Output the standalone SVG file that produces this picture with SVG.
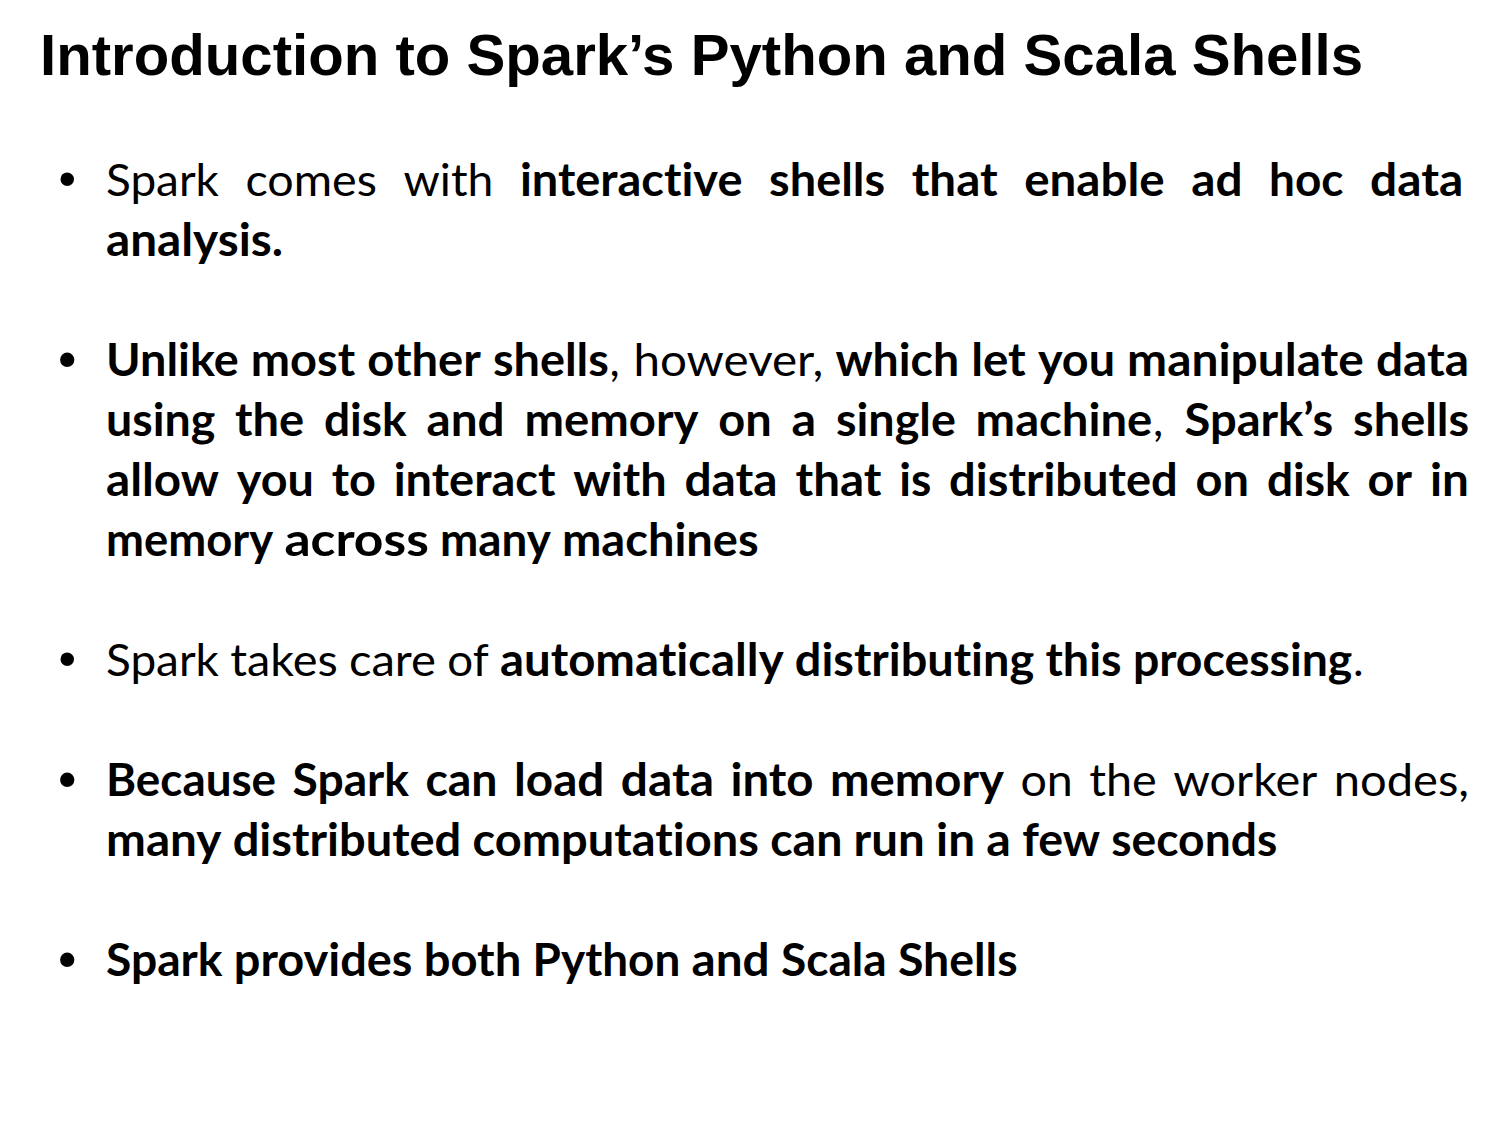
<svg xmlns="http://www.w3.org/2000/svg" width="1500" height="1125" viewBox="0 0 1500 1125">
<style>
.t{font-family:"Liberation Sans",Arial,sans-serif;font-weight:bold;font-size:58px;fill:#000}
.r,.b{font-family:Lato,"Open Sans",sans-serif;font-size:45px;fill:#000;font-variant-ligatures:none;font-feature-settings:"liga" 0,"clig" 0,"dlig" 0}
.b{font-weight:bold}
.bu{font-family:"Liberation Sans",Arial,sans-serif;font-size:50px;fill:#000}
.bb{font-weight:bold}
</style>
<rect width="1500" height="1125" fill="#fff"/>
<g id="title">
<text class="t" x="40" y="75" textLength="1323" lengthAdjust="spacingAndGlyphs">Introduction to Spark’s Python and Scala Shells</text>
</g>
<g id="bullet1">
<text class="bu" x="58.5" y="196">•</text>
<text class="r" x="106" y="196" textLength="112.9" lengthAdjust="spacingAndGlyphs">Spark</text>
<text class="r" x="245.5" y="196" textLength="131.4" lengthAdjust="spacingAndGlyphs">comes</text>
<text class="r" x="403.5" y="196" textLength="89.8" lengthAdjust="spacingAndGlyphs">with</text>
<text class="b" x="519.9" y="196" textLength="222.6" lengthAdjust="spacingAndGlyphs">interactive</text>
<text class="b" x="769.1" y="196" textLength="116" lengthAdjust="spacingAndGlyphs">shells</text>
<text class="b" x="911.7" y="196" textLength="85.9" lengthAdjust="spacingAndGlyphs">that</text>
<text class="b" x="1024.2" y="196" textLength="140.4" lengthAdjust="spacingAndGlyphs">enable</text>
<text class="b" x="1191.2" y="196" textLength="51.3" lengthAdjust="spacingAndGlyphs">ad</text>
<text class="b" x="1269.1" y="196" textLength="74.4" lengthAdjust="spacingAndGlyphs">hoc</text>
<text class="b" x="1370.1" y="196" textLength="93.2" lengthAdjust="spacingAndGlyphs">data</text>
<text class="b" x="106" y="256" textLength="177.1" lengthAdjust="spacingAndGlyphs">analysis.</text>
</g>
<g id="bullet2">
<text class="bu bb" x="58.5" y="376">•</text>
<text class="b" x="106" y="376" textLength="132.7" lengthAdjust="spacingAndGlyphs">Unlike</text>
<text class="b" x="250.8" y="376" textLength="104.4" lengthAdjust="spacingAndGlyphs">most</text>
<text class="b" x="367.3" y="376" textLength="113.5" lengthAdjust="spacingAndGlyphs">other</text>
<text class="b" x="492.9" y="376" textLength="116" lengthAdjust="spacingAndGlyphs">shells</text>
<text class="r" x="609.5" y="376">,</text>
<text class="r" x="633.4" y="376" textLength="189.9" lengthAdjust="spacingAndGlyphs">however,</text>
<text class="b" x="835.4" y="376" textLength="123.7" lengthAdjust="spacingAndGlyphs">which</text>
<text class="b" x="971.2" y="376" textLength="54.6" lengthAdjust="spacingAndGlyphs">let</text>
<text class="b" x="1037.9" y="376" textLength="77.1" lengthAdjust="spacingAndGlyphs">you</text>
<text class="b" x="1127.1" y="376" textLength="236.7" lengthAdjust="spacingAndGlyphs">manipulate</text>
<text class="b" x="1375.9" y="376" textLength="93.2" lengthAdjust="spacingAndGlyphs">data</text>
<text class="b" x="106" y="436" textLength="109.2" lengthAdjust="spacingAndGlyphs">using</text>
<text class="b" x="235" y="436" textLength="69.1" lengthAdjust="spacingAndGlyphs">the</text>
<text class="b" x="323.9" y="436" textLength="82.8" lengthAdjust="spacingAndGlyphs">disk</text>
<text class="b" x="426.5" y="436" textLength="78.1" lengthAdjust="spacingAndGlyphs">and</text>
<text class="b" x="524.4" y="436" textLength="174.1" lengthAdjust="spacingAndGlyphs">memory</text>
<text class="b" x="718.3" y="436" textLength="53.5" lengthAdjust="spacingAndGlyphs">on</text>
<text class="b" x="791.6" y="436" textLength="24.6" lengthAdjust="spacingAndGlyphs">a</text>
<text class="b" x="836" y="436" textLength="119.8" lengthAdjust="spacingAndGlyphs">single</text>
<text class="b" x="975.6" y="436" textLength="176.7" lengthAdjust="spacingAndGlyphs">machine</text>
<text class="r" x="1153" y="436">,</text>
<text class="b" x="1184.5" y="436" textLength="148.8" lengthAdjust="spacingAndGlyphs">Spark’s</text>
<text class="b" x="1353.1" y="436" textLength="116" lengthAdjust="spacingAndGlyphs">shells</text>
<text class="b" x="106" y="496" textLength="113" lengthAdjust="spacingAndGlyphs">allow</text>
<text class="b" x="236.8" y="496" textLength="77.1" lengthAdjust="spacingAndGlyphs">you</text>
<text class="b" x="331.8" y="496" textLength="44.1" lengthAdjust="spacingAndGlyphs">to</text>
<text class="b" x="393.7" y="496" textLength="161.7" lengthAdjust="spacingAndGlyphs">interact</text>
<text class="b" x="573.2" y="496" textLength="93.4" lengthAdjust="spacingAndGlyphs">with</text>
<text class="b" x="684.4" y="496" textLength="93.2" lengthAdjust="spacingAndGlyphs">data</text>
<text class="b" x="795.5" y="496" textLength="85.9" lengthAdjust="spacingAndGlyphs">that</text>
<text class="b" x="899.2" y="496" textLength="32.1" lengthAdjust="spacingAndGlyphs">is</text>
<text class="b" x="949.1" y="496" textLength="228.6" lengthAdjust="spacingAndGlyphs">distributed</text>
<text class="b" x="1195.5" y="496" textLength="53.5" lengthAdjust="spacingAndGlyphs">on</text>
<text class="b" x="1266.9" y="496" textLength="82.8" lengthAdjust="spacingAndGlyphs">disk</text>
<text class="b" x="1367.5" y="496" textLength="44.5" lengthAdjust="spacingAndGlyphs">or</text>
<text class="b" x="1429.9" y="496" textLength="39" lengthAdjust="spacingAndGlyphs">in</text>
<text class="b" x="106" y="556" textLength="167.1" lengthAdjust="spacingAndGlyphs">memory</text>
<text class="b" x="284.4" y="556" textLength="144.4" lengthAdjust="spacingAndGlyphs">across</text>
<text class="b" x="440" y="556" textLength="110.8" lengthAdjust="spacingAndGlyphs">many</text>
<text class="b" x="562" y="556" textLength="196.6" lengthAdjust="spacingAndGlyphs">machines</text>
</g>
<g id="bullet3">
<text class="bu" x="58.5" y="676">•</text>
<text class="r" x="106" y="676" textLength="112.9" lengthAdjust="spacingAndGlyphs">Spark</text>
<text class="r" x="230.2" y="676" textLength="107.5" lengthAdjust="spacingAndGlyphs">takes</text>
<text class="r" x="348.9" y="676" textLength="87.1" lengthAdjust="spacingAndGlyphs">care</text>
<text class="r" x="447.3" y="676" textLength="41.4" lengthAdjust="spacingAndGlyphs">of</text>
<text class="b" x="500" y="676" textLength="283.6" lengthAdjust="spacingAndGlyphs">automatically</text>
<text class="b" x="794.8" y="676" textLength="239.4" lengthAdjust="spacingAndGlyphs">distributing</text>
<text class="b" x="1045.5" y="676" textLength="76.1" lengthAdjust="spacingAndGlyphs">this</text>
<text class="b" x="1132.9" y="676" textLength="219.4" lengthAdjust="spacingAndGlyphs">processing</text>
<text class="r" x="1353" y="676">.</text>
</g>
<g id="bullet4">
<text class="bu bb" x="58.5" y="796">•</text>
<text class="b" x="106" y="796" textLength="170.1" lengthAdjust="spacingAndGlyphs">Because</text>
<text class="b" x="292.5" y="796" textLength="116.5" lengthAdjust="spacingAndGlyphs">Spark</text>
<text class="b" x="425.4" y="796" textLength="72.2" lengthAdjust="spacingAndGlyphs">can</text>
<text class="b" x="514" y="796" textLength="90.4" lengthAdjust="spacingAndGlyphs">load</text>
<text class="b" x="620.8" y="796" textLength="93.2" lengthAdjust="spacingAndGlyphs">data</text>
<text class="b" x="730.4" y="796" textLength="83.1" lengthAdjust="spacingAndGlyphs">into</text>
<text class="b" x="829.9" y="796" textLength="174.1" lengthAdjust="spacingAndGlyphs">memory</text>
<text class="r" x="1020.4" y="796" textLength="52.4" lengthAdjust="spacingAndGlyphs">on</text>
<text class="r" x="1089.2" y="796" textLength="67.6" lengthAdjust="spacingAndGlyphs">the</text>
<text class="r" x="1173.2" y="796" textLength="144.1" lengthAdjust="spacingAndGlyphs">worker</text>
<text class="r" x="1333.7" y="796" textLength="135.3" lengthAdjust="spacingAndGlyphs">nodes,</text>
<text class="b" x="106" y="856" textLength="115.4" lengthAdjust="spacingAndGlyphs">many</text>
<text class="b" x="232.7" y="856" textLength="228.6" lengthAdjust="spacingAndGlyphs">distributed</text>
<text class="b" x="472.5" y="856" textLength="286.4" lengthAdjust="spacingAndGlyphs">computations</text>
<text class="b" x="770.2" y="856" textLength="72.2" lengthAdjust="spacingAndGlyphs">can</text>
<text class="b" x="853.6" y="856" textLength="71.2" lengthAdjust="spacingAndGlyphs">run</text>
<text class="b" x="936.1" y="856" textLength="39" lengthAdjust="spacingAndGlyphs">in</text>
<text class="b" x="986.3" y="856" textLength="24.6" lengthAdjust="spacingAndGlyphs">a</text>
<text class="b" x="1022.2" y="856" textLength="77.9" lengthAdjust="spacingAndGlyphs">few</text>
<text class="b" x="1111.3" y="856" textLength="165.9" lengthAdjust="spacingAndGlyphs">seconds</text>
</g>
<g id="bullet5">
<text class="bu bb" x="58.5" y="976">•</text>
<text class="b" x="106" y="976" textLength="116.5" lengthAdjust="spacingAndGlyphs">Spark</text>
<text class="b" x="233.8" y="976" textLength="178.7" lengthAdjust="spacingAndGlyphs">provides</text>
<text class="b" x="423.7" y="976" textLength="97.6" lengthAdjust="spacingAndGlyphs">both</text>
<text class="b" x="532.6" y="976" textLength="147.7" lengthAdjust="spacingAndGlyphs">Python</text>
<text class="b" x="691.5" y="976" textLength="78.1" lengthAdjust="spacingAndGlyphs">and</text>
<text class="b" x="780.9" y="976" textLength="105.8" lengthAdjust="spacingAndGlyphs">Scala</text>
<text class="b" x="897.9" y="976" textLength="119.7" lengthAdjust="spacingAndGlyphs">Shells</text>
</g>
</svg>
